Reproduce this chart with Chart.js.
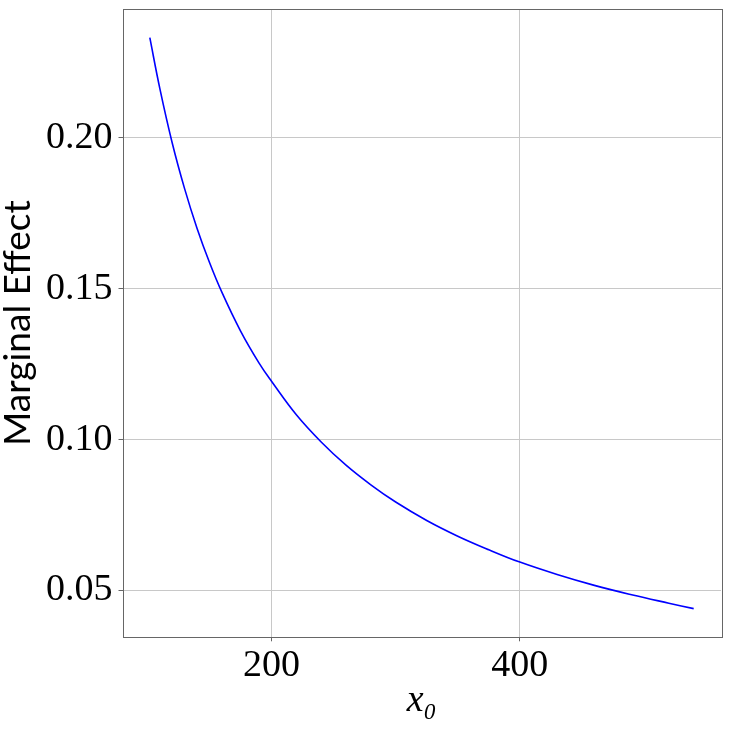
<!DOCTYPE html>
<html>
<head>
<meta charset="utf-8">
<script src="https://cdn.jsdelivr.net/npm/chart.js@4.4.1/dist/chart.umd.min.js"></script>
<style>
  html, body { margin:0; padding:0; background:#fff; }
  #wrap { width:730px; height:730px; }
</style>
</head>
<body>
<div id="wrap"><canvas id="chart"></canvas></div>
<script>
// Data
const xVals = [102, 110, 120, 130, 140, 150, 160, 175, 190, 200, 220, 240, 260, 280, 300, 325, 350, 375, 400, 430, 460, 490, 520, 540];
const effect = [0.2331, 0.2164, 0.1983, 0.1831, 0.1700, 0.1587, 0.1488, 0.1360, 0.1253, 0.1193, 0.1082, 0.0992, 0.0915, 0.0850, 0.0793, 0.0732, 0.0680, 0.0635, 0.0594, 0.0553, 0.0517, 0.0486, 0.0458, 0.0440];
const xTicks = [200, 400];
const yTicks = [0.05, 0.10, 0.15, 0.20];

const SERIF = "'Liberation Serif', 'DejaVu Serif', serif";
const GRID = '#c8c8c8';

// frame round the plot area (top and right sides too)
const frame = {
  id:'frame',
  afterDraw(chart) {
    const a = chart.chartArea, ctx = chart.ctx;
    ctx.save();
    ctx.strokeStyle = '#666';
    ctx.lineWidth = 1;
    ctx.strokeRect(Math.round(a.left) + 0.5, Math.round(a.top) + 0.5, Math.round(a.right - a.left), Math.round(a.bottom - a.top));
    ctx.restore();
  }
};

new Chart(document.getElementById('chart'), {
  type:'line',
  data:{ datasets:[{ data: xVals.map((x, i) => ({ x, y: effect[i] })), borderColor:'#0000ff', borderWidth:1.6, pointRadius:0, tension:0.4, fill:false }] },
  options:{
    responsive:true, maintainAspectRatio:false, animation:false,
    layout:{ padding:{ top:9, right:9, left:0, bottom:0 } },
    plugins:{ legend:{display:false}, tooltip:{enabled:false} },
    scales:{
      x:{
        type:'linear', min:80, max:562,
        afterBuildTicks: s => { s.ticks = xTicks.map(v => ({ value:v })); },
        afterFit: s => { s.height = 92.7; s.paddingLeft = 0; s.paddingRight = 0; },
        grid:{ color:GRID, tickLength:4, tickColor:'#666' },
        border:{ display:false },
        ticks:{ font:{ family:SERIF, size:38 }, color:'#000', padding:2, maxRotation:0 },
        title:{ display:true, text:'x₀', font:{ family:SERIF, size:38, style:'italic' }, color:'#000', padding:{ top:0, bottom:6 } }
      },
      y:{
        min:0.0345, max:0.2426,
        afterBuildTicks: s => { s.ticks = yTicks.map(v => ({ value:v })); },
        afterFit: s => { s.width = 122.5; s.paddingTop = 0; s.paddingBottom = 0; },
        grid:{ color:GRID, tickLength:4, tickColor:'#666' },
        border:{ display:false },
        ticks:{ font:{ family:SERIF, size:38 }, color:'#000', padding:6, callback: v => v.toFixed(2) },
        title:{ display:true, text:'Marginal Effect', font:{ family:"Lato, 'Open Sans', sans-serif", size:37 }, color:'#000', padding:{ top:-4, bottom:4 } }
      }
    }
  },
  plugins:[frame]
});
</script>
</body>
</html>
